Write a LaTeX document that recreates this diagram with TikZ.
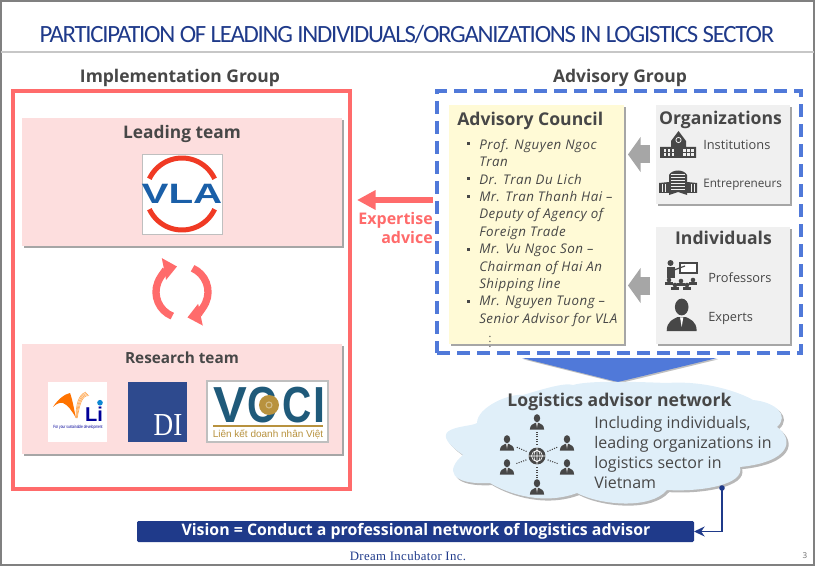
\documentclass[tikz,border=0pt]{standalone}
\usepackage{fontspec}
\setmainfont{Open Sans}
\newfontfamily\titlefont[LetterSpace=-5]{Carlito}
\newfontfamily\footfont{Liberation Serif}
\newfontfamily\logofont{Liberation Sans}
\usetikzlibrary{calc,positioning,arrows.meta,shadows}

\definecolor{titleblue}{HTML}{1F3A8A}
\definecolor{textgray}{HTML}{474747}
\definecolor{redline}{HTML}{FF6B6B}
\definecolor{pinkfill}{HTML}{FDDEDE}
\definecolor{dashblue}{HTML}{5079D9}
\definecolor{creamfill}{HTML}{FFFAD6}
\definecolor{cloudfill}{HTML}{E0EFF9}
\definecolor{arrowgray}{HTML}{A6A6A6}
\definecolor{boxgray}{HTML}{F0F0F0}
\definecolor{vlablue}{HTML}{1A5FA8}
\definecolor{vlared}{HTML}{F03A24}
\definecolor{diblue}{HTML}{2E4A8E}
\definecolor{vccibl}{HTML}{1F5A7A}
\definecolor{vccigd}{HTML}{B8923E}

\tikzset{
  boxshadow/.style={drop shadow={shadow xshift=1.6pt,shadow yshift=-1.6pt,fill=black,opacity=.35}},
  pxbox/.style 2 args={rectangle,inner sep=0pt,outer sep=0pt,anchor=north west,minimum width=#1*.75pt,minimum height=#2*.75pt},
  groupttl/.style={font=\fontsize{13.1}{16}\selectfont\bfseries,text=textgray},
  sidettl/.style={font=\fontsize{13.2}{16}\selectfont\bfseries,text=textgray},
  smalltxt/.style={font=\fontsize{9.6}{12}\selectfont,text=textgray,anchor=west,inner sep=0pt},
  listtxt/.style={font=\fontsize{10}{13}\selectfont\itshape\addfontfeatures{LetterSpace=3.8},text=textgray,anchor=north west,align=left,inner sep=0pt},
  blockarrow/.style={draw=arrowgray,line width=13.5pt,-{Triangle[length=9.5pt,width=26pt]}},
  hublink/.style={line width=.8pt,dash pattern=on .8pt off 1pt,draw=textgray},
  vcciltr/.style={font=\logofont\bfseries\fontsize{38}{38}\selectfont,text=vccibl,inner sep=0pt},
  % small figure of a person, head and shoulders
  person/.pic={
    \fill[textgray] (0,-4) ellipse (3.4 and 4.2);
    \fill[textgray] (-7.5,8) .. controls (-7.5,3) and (-4,2) .. (-2,1) -- (2,1) .. controls (4,2) and (7.5,3) .. (7.5,8) -- cycle;
    \fill[white] (-.8,1.2) -- (.8,1.2) -- (0,6) -- cycle;
  },
}

\begin{document}
\begin{tikzpicture}[x=.75pt,y=-.75pt]
  \useasboundingbox (0,0) rectangle (815,567);

  %frame and title
  \node (frame) [pxbox={813}{564},draw=black!50,line width=1.5pt] at(1,1) {};
  \draw[black!22,line width=2.2pt] (frame.west |- 0,52) -- (frame.east |- 0,52);
  \node (title) [font=\titlefont\fontsize{18.6}{22}\selectfont,text=titleblue] at(407,34) {PARTICIPATION OF LEADING INDIVIDUALS/ORGANIZATIONS IN LOGISTICS SECTOR};

  %implementation group
  \node (impl_ttl) [groupttl] at(180,78) {Implementation Group};
  \node (impl_box) [pxbox={337}{398},draw=redline,line width=2.3pt] at(13,91) {};
  \node (lead_box) [pxbox={320}{128},fill=pinkfill,boxshadow] at(22,118) {};
  \node (lead_ttl) [font=\fontsize{13}{15}\selectfont\bfseries,text=textgray] at(182,134) {Leading team};
  \node (res_box) [pxbox={320}{110},fill=pinkfill,boxshadow] at(22,344) {};
  \node (res_ttl) [font=\fontsize{11.5}{15}\selectfont\bfseries,text=textgray] at(182,358) {Research team};

  %vla logo
  \node (vla_logo) [pxbox={80}{80},fill=white,draw=black!25,line width=.6pt] at(142,154) {};
  \draw[vlared,line width=3.75pt] (vla_logo.center) ++(-25:36) arc[start angle=-25,end angle=-155,radius=36];
  \draw[vlared,line width=3.75pt] (vla_logo.center) ++(-205:36) arc[start angle=-205,end angle=-335,radius=36];
  \node (vla_txt) [font=\logofont\bfseries\fontsize{21}{21}\selectfont,text=vlablue,xscale=1.44,inner sep=0pt] at(vla_logo.center) {VLA};

  %circular arrows
  \coordinate (cyc) at (182,292);
  \draw[redline,line width=5.5pt,-{Triangle[length=10pt,width=16pt]}] ($(cyc)+(-248:26)$) arc[start angle=-248,end angle=-101,radius=26];
  \draw[redline,line width=5.5pt,-{Triangle[length=10pt,width=16pt]}] ($(cyc)+(-66:26)$) arc[start angle=-66,end angle=78,radius=26];

  %research logos
  \node (vli_logo) [pxbox={59}{60},fill=white] at(48,382) {};
  \fill[orange!90!red] (53,407) .. controls (58,399) and (65,394) .. (70,393) .. controls (73,401) and (74,410) .. (76,418) .. controls (72,411) and (68,405) .. (63,403) .. controls (60,402) and (56,404) .. (53,407) -- cycle;
  \foreach \dx in {0,2,4,6}
    \draw[orange!65,line width=.5pt] (76+\dx*.2,418) .. controls (76+\dx*.6,405) and (78+\dx*.6,395) .. (86+\dx*.5,392+\dx*.6);
  \node (vli_txt) [font=\logofont\bfseries\fontsize{15}{15}\selectfont,text=blue!60!black,inner sep=0pt] at(94,414) {Li};
  \fill[cyan!70!blue] (100,402.7) circle (2.8);
  \node (vli_sub) [font=\logofont\fontsize{3.4}{4}\selectfont,text=blue!60!black,inner sep=0pt,xscale=.72] at(78,427) {For your sustainable development};

  \node (di_logo) [pxbox={59}{60},fill=diblue] at(128,382) {};
  \node (di_txt) [font=\footfont\fontsize{24}{24}\selectfont,text=white,inner sep=0pt,xscale=.85] at(168,425) {DI};

  \node (vcci_logo) [pxbox={121}{61},fill=white,draw=black!25,line width=.8pt] at(207,381) {};
  \node (vcci_v) [vcciltr] at(230,405) {V};
  \node (vcci_c1) [vcciltr,xscale=.8] at(262,405) {C};
  \node (vcci_c2) [vcciltr,xscale=.8] at(297,405) {C};
  \node (vcci_i) [vcciltr,xscale=.85] at(319,405) {I};
  \node (vcci_sun) [circle,fill=vccigd,minimum size=20*.75pt,inner sep=0pt] at(269,405) {};
  \draw[vccigd!60!white,line width=.8pt] (269,405) circle (3);
  \draw[vccigd,line width=.8pt] (213,426) -- (323,426);
  \node (vcci_sub) [font=\logofont\fontsize{7.5}{9}\selectfont,text=vccigd,inner sep=0pt] at(268,434.5) {Liên kết doanh nhân Việt};

  %advisory group
  \node (adv_ttl) [groupttl] at(620,78) {Advisory Group};
  \node (adv_box) [pxbox={364}{262},draw=dashblue,line width=2.5pt,dash pattern=on 9.5pt off 5.5pt] at(437,91) {};

  \node (council) [pxbox={175}{239},fill=creamfill,boxshadow] at(449,105) {};
  \node (council_ttl) [sidettl,anchor=west,inner sep=0pt] at(457,121) {Advisory Council};
  \foreach \y/\txt in {139/{Prof. Nguyen Ngoc\\Tran},174/{Dr. Tran Du Lich},191/{Mr. Tran Thanh Hai –\\Deputy of Agency of\\Foreign Trade},244/{Mr. Vu Ngoc Son –\\Chairman of Hai An\\Shipping line},296/{Mr. Nguyen Tuong –\\Senior Advisor for VLA}}
  {
    \fill[textgray] ($(467,\y)+(0,3.5)$) rectangle ++(3,3);
    \node (item_\y) [listtxt] at(479,\y) {\txt};
  }
  \node (council_dots) [text=textgray,font=\footnotesize,inner sep=0pt] at(490,338) {$\vdots$};

  \node (orgs) [pxbox={134}{99},fill=boxgray,boxshadow] at(656,105) {};
  \node (orgs_ttl) [sidettl] at(720.5,120) {Organizations};
  \node (inst_txt) [smalltxt] at(703,145) {Institutions};
  \node (entr_txt) [smalltxt,font=\fontsize{8.8}{12}\selectfont] at(703,185) {Entrepreneurs};

  \node (indiv) [pxbox={134}{117},fill=boxgray,boxshadow] at(656,227) {};
  \node (indiv_ttl) [sidettl] at(723.5,238) {Individuals};
  \node (prof_txt) [smalltxt] at(708,277.5) {Professors};
  \node (expt_txt) [smalltxt] at(708,318) {Experts};

  %institutions icon
  \fill[textgray] (660,158) -- (660,147) -- (671,147) -- (671,141) -- (678.5,131) -- (686,141) -- (686,147) -- (696,147) -- (696,158) -- cycle;
  \draw[boxgray,line width=.6pt] (678.5,140) circle (2.6);
  \foreach \x in {663.5,667.5,671.5,683,687,691}
    \foreach \y in {149.5,153.5}
      \fill[boxgray] (\x,\y) rectangle ++(2.5,2.5);

  %entrepreneurs icon
  \fill[textgray] (659,193) -- (659,183) -- (669,182) -- (669,175) .. controls (672,169) and (684,169) .. (687,175) -- (687,182) -- (697,183) -- (697,193) -- (687,193) -- (687,195) -- (678,192) -- (669,195) -- (669,193) -- cycle;
  \foreach \y in {174,177,180,183,186,189}
    \draw[boxgray,line width=.45pt] (671,\y) -- (685,\y);
  \foreach \x in {662,665,691,694}
    \draw[boxgray,line width=.5pt] (\x,184) -- (\x,192);

  %professors icon
  \draw[textgray,line width=.9pt,fill=white] (680,263) rectangle (697,273);
  \fill[textgray] (670.5,263) circle (3);
  \fill[textgray] (667,267) rectangle (675,278);
  \draw[textgray,line width=.9pt] (674,270) -- (685,266);
  \foreach \x/\y in {669/280,681/281,693/280,675/285,687/285}
  {
    \fill[textgray] (\x,\y) circle (2.3);
    \fill[textgray] (\x-4,\y+5) rectangle (\x+4,\y+1.8);
  }

  %experts icon
  \pic at (681.7,315) [scale=2] {person};

  %arrows between the boxes
  \draw[blockarrow,shorten <=4.5pt,shorten >=3pt] (orgs.west) -- (council.east |- orgs.west);
  \draw[blockarrow,shorten <=4.5pt,shorten >=3pt] (indiv.west) -- (council.east |- indiv.west);

  %expertise advice
  \coordinate (red_tail) at (433,200);
  \coordinate (red_tip) at (357,200);
  \draw[redline,line width=4.5pt,-{Triangle[length=14pt,width=14pt]}] (red_tail) -- (red_tip);
  \node (exp_txt) [font=\fontsize{12}{14.5}\selectfont\bfseries,text=redline,align=right,anchor=north east,inner sep=0pt] at(433,212) {Expertise\\advice};

  %big blue arrow
  \fill[dashblue,drop shadow={shadow xshift=1pt,shadow yshift=-1pt,fill=black,opacity=.25}] (522,358) -- (717,358) -- (618,382) -- cycle;

  %cloud
  \filldraw[fill=cloudfill,draw=none,drop shadow={shadow xshift=1.6pt,shadow yshift=-1.6pt,fill=black,opacity=.28}] (463,455) .. controls (420,425) and (470,428) .. (477,423)
    .. controls (477,407) and (510,393) .. (523,395) .. controls (540,390) and (565,382) .. (573,385)
    .. controls (590,380) and (640,382) .. (667,383) .. controls (710,380) and (745,395) .. (753,400)
    .. controls (775,402) and (790,415) .. (777,427) .. controls (795,440) and (790,462) .. (740,467)
    .. controls (745,485) and (700,492) .. (667,490) .. controls (650,510) and (600,505) .. (577,493)
    .. controls (545,505) and (510,495) .. (490,483) .. controls (450,485) and (445,470) .. (463,455) -- cycle;
  \node (cloud_ttl) [font=\fontsize{13.2}{16}\selectfont\bfseries,text=textgray] at(619.5,402) {Logistics advisor network};
  \node (cloud_txt) [font=\fontsize{12}{15}\selectfont,text=textgray,align=left,anchor=north west,inner sep=0pt] at(594,416) {Including individuals,\\leading organizations in\\logistics sector in\\Vietnam};

  %network icon
  \node (hub) [circle,fill=textgray,minimum size=17*.75pt,inner sep=0pt] at(537,456) {};
  \draw[white,line width=.45pt] (hub.center) circle (5.5) (hub.west) -- (hub.east) (hub.north) -- (hub.south);
  \draw[white,line width=.45pt] (hub.center) ellipse (3 and 6);
  \foreach \name/\x/\y in {pa/537/422,pb/507/443,pc/567/443,pd/507/467,pe/567/467,pf/537/487}
  {
    \coordinate (\name) at (\x,\y);
    \pic at (\name) [scale=.95] {person};
    \draw[hublink,shorten >=7.5pt,shorten <=8.5pt] (hub.center) -- (\name);
  }

  %vision bar
  \node (vision) [pxbox={557}{21},fill=titleblue,rounded corners=1pt] at(137,521) {};
  \node (vision_txt) [font=\fontsize{11.9}{14}\selectfont\bfseries,text=white] at(416,531) {Vision = Conduct a professional network of logistics advisor};
  \coordinate (cloud_dot) at (722,488);
  \fill[titleblue] (cloud_dot) circle (2.8);
  \draw[titleblue,line width=1pt,-{Stealth[length=8pt,width=7.5pt]}] (cloud_dot) |- (vision.east);

  %footer
  \node (foot) [font=\footfont\fontsize{9.6}{10}\selectfont\addfontfeatures{LetterSpace=3},text=titleblue] at(408,556) {Dream Incubator Inc.};
  \node (page_no) [font=\fontsize{6}{8}\selectfont,text=black!60] at(805,556) {3};

\end{tikzpicture}
\end{document}
